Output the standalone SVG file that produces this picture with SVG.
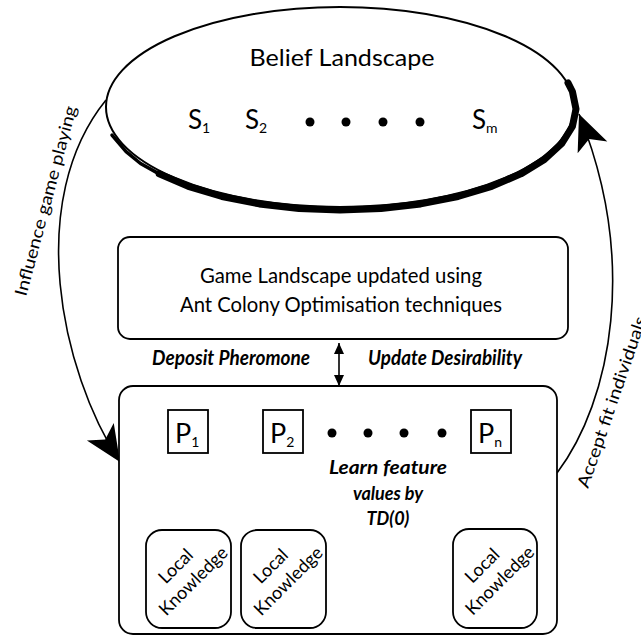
<svg xmlns="http://www.w3.org/2000/svg" width="641" height="638" viewBox="0 0 641 638">
<style>
  .t { font-family: Lato, "Open Sans", "Liberation Sans", sans-serif; fill: #000; }
  .bi { font-family: Lato, "Open Sans", "Liberation Sans", sans-serif; font-weight: bold; font-style: italic; fill: #000; }
  .box { fill: #fff; stroke: #000; stroke-width: 1.8; }
  .line { fill: none; stroke: #000; stroke-width: 1.6; }
  .dot { fill: #000; }
  .shadow { fill: none; stroke: #000; stroke-linecap: round; stroke-linejoin: round; }
</style>
<defs>
  <marker id="arr" markerUnits="userSpaceOnUse" markerWidth="14" markerHeight="12" viewBox="-12 -6 14 12" refX="0" refY="0" orient="auto" overflow="visible">
    <path d="M0,0 L-11,-4.5 L-11,4.5 Z" fill="#000"/>
  </marker>
  <marker id="arrS" markerUnits="userSpaceOnUse" markerWidth="14" markerHeight="12" viewBox="-12 -6 14 12" refX="0" refY="0" orient="auto-start-reverse" overflow="visible">
    <path d="M0,0 L-11,-5 L-11,5 Z" fill="#000"/>
  </marker>
  <marker id="big" markerUnits="userSpaceOnUse" markerWidth="40" markerHeight="36" viewBox="-38 -18 40 36" refX="0" refY="0" orient="auto" overflow="visible">
    <path d="M0,0 L-36,-16 L-27,0 L-36,16 Z" fill="#000"/>
  </marker>
</defs>

<rect x="0" y="0" width="641" height="638" fill="#fff"/>

<g id="connectors">
  <path class="line" d="M106,100 C25,200 60,370 120,462" marker-end="url(#big)"/>
  <path class="line" d="M557,473 C612,400 638,260 579,114" marker-end="url(#big)"/>
  <text class="t" font-size="17" transform="translate(26,297) rotate(-75)" textLength="196" lengthAdjust="spacingAndGlyphs">Influence game playing</text>
  <text class="t" font-size="17" transform="translate(588,489) rotate(-71)" textLength="180" lengthAdjust="spacingAndGlyphs">Accept fit individuals</text>
  <line class="line" x1="339" y1="343" x2="339" y2="386" marker-start="url(#arrS)" marker-end="url(#arrS)"/>
  <text class="bi" font-size="20" x="152" y="365" textLength="158" lengthAdjust="spacingAndGlyphs">Deposit Pheromone</text>
  <text class="bi" font-size="20" x="368" y="365" textLength="154" lengthAdjust="spacingAndGlyphs">Update Desirability</text>
  <line class="line" x1="158" y1="530" x2="178" y2="454" marker-end="url(#arr)"/>
  <line class="line" x1="195" y1="454" x2="217" y2="529" marker-end="url(#arr)"/>
  <line class="line" x1="253" y1="530" x2="273" y2="454" marker-end="url(#arr)"/>
  <line class="line" x1="290" y1="454" x2="312" y2="529" marker-end="url(#arr)"/>
  <line class="line" x1="463" y1="529" x2="484" y2="454" marker-end="url(#arr)"/>
  <line class="line" x1="502" y1="454" x2="522" y2="528" marker-end="url(#arr)"/>
</g>

<g id="belief">
  <ellipse cx="340" cy="107" rx="234" ry="100" fill="#fff" stroke="#000" stroke-width="2"/>
  <path class="shadow" stroke-width="3.5" d="M112,135.1 L126.1,151.7 L140.5,163.5 L159.2,173.9"/>
  <path class="shadow" stroke-width="7" d="M159.2,173.9 L188.3,186.4 L222,196.5 L259.3,203.9 L299,208.5 L340,210 L381,208.5 L420.7,203.9 L458,196.5 L491.7,186.4 L520.8,173.9 L544.4,159.5 L561.8,143.5 L572.4,126.5 L576,109 L572.4,91.5 L568,82.9"/>
  <text class="t" font-size="23" x="342" y="66" text-anchor="middle" textLength="185" lengthAdjust="spacingAndGlyphs">Belief Landscape</text>
  <text class="t" font-size="26" x="188" y="129">S<tspan font-size="14" dy="4">1</tspan></text>
  <text class="t" font-size="26" x="245" y="129">S<tspan font-size="14" dy="4">2</tspan></text>
  <circle class="dot" cx="310" cy="122" r="4.5"/>
  <circle class="dot" cx="346" cy="122" r="4.5"/>
  <circle class="dot" cx="383" cy="122" r="4.5"/>
  <circle class="dot" cx="420" cy="122" r="4.5"/>
  <text class="t" font-size="26" x="472" y="129">S<tspan font-size="14" dy="4">m</tspan></text>
</g>

<g id="game-landscape">
  <rect class="box" x="118" y="237" width="450" height="102" rx="12"/>
  <text class="t" font-size="21" x="341" y="283" text-anchor="middle" textLength="282" lengthAdjust="spacingAndGlyphs">Game Landscape updated using</text>
  <text class="t" font-size="21" x="341" y="312" text-anchor="middle" textLength="322" lengthAdjust="spacingAndGlyphs">Ant Colony Optimisation techniques</text>
</g>

<g id="population">
  <rect class="box" x="119" y="386" width="438" height="248" rx="14"/>
  <circle class="dot" cx="332" cy="433" r="4.5"/>
  <circle class="dot" cx="368" cy="433" r="4.5"/>
  <circle class="dot" cx="404" cy="433" r="4.5"/>
  <circle class="dot" cx="442" cy="433" r="4.5"/>
  <text class="bi" font-size="18" x="388" y="474" text-anchor="middle" textLength="118" lengthAdjust="spacingAndGlyphs">Learn feature</text>
  <text class="bi" font-size="18" x="388" y="500" text-anchor="middle">values by</text>
  <text class="bi" font-size="18" x="388" y="525" text-anchor="middle">TD(0)</text>
</g>

<g id="p1">
  <rect class="box" x="168" y="410" width="40" height="43"/>
  <text class="t" font-size="27" x="175" y="443">P<tspan font-size="14" dy="4">1</tspan></text>
</g>
<g id="p2">
  <rect class="box" x="263" y="410" width="40" height="43"/>
  <text class="t" font-size="27" x="270" y="443">P<tspan font-size="14" dy="4">2</tspan></text>
</g>
<g id="pn">
  <rect class="box" x="471" y="410" width="40" height="43"/>
  <text class="t" font-size="27" x="478" y="443">P<tspan font-size="14" dy="4">n</tspan></text>
</g>

<g id="lk1">
  <rect class="box" x="146" y="530" width="85" height="98" rx="16"/>
  <g transform="translate(188.5,579) rotate(-45)">
    <text class="t" font-size="18" x="0" y="-12" text-anchor="middle">Local</text>
    <text class="t" font-size="18" x="2" y="11" text-anchor="middle">Knowledge</text>
  </g>
</g>
<g id="lk2">
  <rect class="box" x="241" y="530" width="85" height="98" rx="16"/>
  <g transform="translate(283.5,579) rotate(-45)">
    <text class="t" font-size="18" x="0" y="-12" text-anchor="middle">Local</text>
    <text class="t" font-size="18" x="2" y="11" text-anchor="middle">Knowledge</text>
  </g>
</g>
<g id="lkn">
  <rect class="box" x="453" y="529" width="84" height="99" rx="16"/>
  <g transform="translate(495,578.5) rotate(-45)">
    <text class="t" font-size="18" x="0" y="-12" text-anchor="middle">Local</text>
    <text class="t" font-size="18" x="2" y="11" text-anchor="middle">Knowledge</text>
  </g>
</g>
</svg>
